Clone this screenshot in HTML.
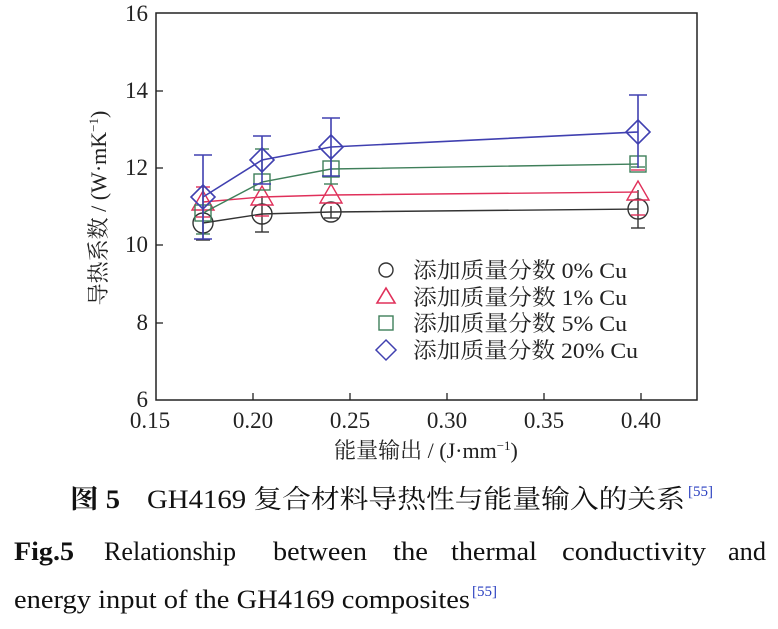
<!DOCTYPE html>
<html><head><meta charset="utf-8"><style>
body{margin:0;background:#fff;width:778px;height:629px;overflow:hidden;}
svg{position:absolute;left:0;top:0}
</style></head><body>
<svg width="778" height="629" xmlns="http://www.w3.org/2000/svg" font-family="Liberation Serif, Noto Serif CJK SC, serif">
<rect x="156" y="13" width="541" height="387" fill="none" stroke="#222" stroke-width="1.5"/>
<g stroke="#222" stroke-width="1.3">
<line x1="253" y1="400" x2="253" y2="393"/><line x1="350" y1="400" x2="350" y2="393"/><line x1="447" y1="400" x2="447" y2="393"/><line x1="544" y1="400" x2="544" y2="393"/><line x1="641" y1="400" x2="641" y2="393"/>
<line x1="156" y1="91" x2="163" y2="91"/><line x1="156" y1="168" x2="163" y2="168"/><line x1="156" y1="245" x2="163" y2="245"/><line x1="156" y1="323" x2="163" y2="323"/>
</g>
<g font-size="23" fill="#222" text-anchor="end">
<text x="148" y="21">16</text><text x="148" y="98">14</text><text x="148" y="175">12</text><text x="148" y="252">10</text><text x="148" y="330">8</text><text x="148" y="407">6</text>
</g>
<g font-size="23" fill="#222" text-anchor="middle">
<text x="150" y="428">0.15</text><text x="253" y="428">0.20</text><text x="350" y="428">0.25</text><text x="447" y="428">0.30</text><text x="544" y="428">0.35</text><text x="641" y="428">0.40</text>
</g>
<text x="426" y="458" font-size="22" text-anchor="middle" fill="#222">能量输出 / (J·mm<tspan font-size="13" dy="-8">−1</tspan><tspan dy="8">)</tspan></text>
<text transform="translate(106,208) rotate(-90)" font-size="22" text-anchor="middle" fill="#222">导热系数 / (W·mK<tspan font-size="13" dy="-8">−1</tspan><tspan dy="8">)</tspan></text>
<g stroke="#333" fill="none" stroke-width="1.4">
<polyline points="203,223 262,214 331,212 638,209"/>
<line x1="203" y1="205" x2="203" y2="240"/><line x1="262" y1="196" x2="262" y2="232"/><line x1="331" y1="206" x2="331" y2="218"/><line x1="638" y1="190" x2="638" y2="228"/>
<line x1="196" y1="240" x2="210" y2="240"/><line x1="255" y1="232" x2="269" y2="232"/><line x1="324" y1="218" x2="338" y2="218"/><line x1="631" y1="228" x2="645" y2="228"/>
<circle cx="203" cy="223" r="10"/><circle cx="262" cy="214" r="10"/><circle cx="331" cy="212" r="10"/><circle cx="638" cy="209" r="10"/>
</g>
<g stroke="#e0305a" fill="none" stroke-width="1.4">
<polyline points="203,202 262,197 331,195 638,192"/>
<line x1="203" y1="187" x2="203" y2="217"/><line x1="196" y1="187" x2="210" y2="187"/><line x1="196" y1="217" x2="210" y2="217"/>
<line x1="255" y1="216" x2="269" y2="216"/><line x1="631" y1="215" x2="645" y2="215"/><line x1="631" y1="170" x2="645" y2="170"/>
<polygon points="203,191 214,210 192,210"/><polygon points="262,186 273,205 251,205"/><polygon points="331,184 342,203 320,203"/><polygon points="638,181 649,200 627,200"/>
</g>
<g stroke="#3f7f5a" fill="none" stroke-width="1.4">
<polyline points="203,213 262,182 331,169 638,164"/>
<line x1="203" y1="187" x2="203" y2="234"/><line x1="196" y1="234" x2="210" y2="234"/>
<line x1="262" y1="149" x2="262" y2="175"/><line x1="255" y1="149" x2="269" y2="149"/>
<line x1="331" y1="156" x2="331" y2="184"/><line x1="324" y1="184" x2="338" y2="184"/>
<line x1="631" y1="167" x2="645" y2="167"/>
<rect x="195" y="205" width="16" height="16"/><rect x="254" y="174" width="16" height="16"/><rect x="323" y="161" width="16" height="16"/><rect x="630" y="156" width="16" height="16"/>
</g>
<g stroke="#4040b0" fill="none" stroke-width="1.6">
<polyline points="203,197 262,160 331,147 638,132"/>
<line x1="203" y1="155" x2="203" y2="239"/><line x1="194" y1="155" x2="212" y2="155"/><line x1="194" y1="239" x2="212" y2="239"/>
<line x1="262" y1="136" x2="262" y2="184"/><line x1="253" y1="136" x2="271" y2="136"/><line x1="253" y1="184" x2="271" y2="184"/>
<line x1="331" y1="118" x2="331" y2="176"/><line x1="322" y1="118" x2="340" y2="118"/><line x1="322" y1="176" x2="340" y2="176"/>
<line x1="638" y1="95" x2="638" y2="168"/><line x1="629" y1="95" x2="647" y2="95"/>
<polygon points="203,185 215,197 203,209 191,197"/><polygon points="262,148 274,160 262,172 250,160"/><polygon points="331,135 343,147 331,159 319,147"/><polygon points="638,120 650,132 638,144 626,132"/>
</g>
<g font-size="22" fill="#222">
<circle cx="386" cy="270" r="7" stroke="#333" fill="none" stroke-width="1.4"/>
<text x="413" y="278" textLength="214" lengthAdjust="spacingAndGlyphs">添加质量分数 0% Cu</text>
<polygon points="386,288 395,303 377,303" stroke="#e0305a" fill="none" stroke-width="1.6"/>
<text x="413" y="305" textLength="214" lengthAdjust="spacingAndGlyphs">添加质量分数 1% Cu</text>
<rect x="379" y="316" width="14" height="14" stroke="#3f7f5a" fill="none" stroke-width="1.4"/>
<text x="413" y="331" textLength="214" lengthAdjust="spacingAndGlyphs">添加质量分数 5% Cu</text>
<polygon points="386,340 396,350 386,360 376,350" stroke="#4040b0" fill="none" stroke-width="1.5"/>
<text x="413" y="358" textLength="225" lengthAdjust="spacingAndGlyphs">添加质量分数 20% Cu</text>
</g>
<g font-size="26" fill="#111">
<text x="70" y="508" font-weight="bold" textLength="50" lengthAdjust="spacingAndGlyphs">图 5</text>
<text x="147" y="508" textLength="538" lengthAdjust="spacingAndGlyphs">GH4169 复合材料导热性与能量输入的关系</text>
<text x="688" y="496" font-size="15" fill="#2a3fc0">[55]</text>
<text x="14" y="560" font-weight="bold" textLength="60" lengthAdjust="spacingAndGlyphs">Fig.5</text>
<text x="104" y="560" textLength="132" lengthAdjust="spacingAndGlyphs">Relationship</text>
<text x="273" y="560" textLength="94" lengthAdjust="spacingAndGlyphs">between</text>
<text x="393" y="560" textLength="35" lengthAdjust="spacingAndGlyphs">the</text>
<text x="451" y="560" textLength="86" lengthAdjust="spacingAndGlyphs">thermal</text>
<text x="562" y="560" textLength="144" lengthAdjust="spacingAndGlyphs">conductivity</text>
<text x="728" y="560" textLength="38" lengthAdjust="spacingAndGlyphs">and</text>
<text x="14" y="608" textLength="456" lengthAdjust="spacingAndGlyphs">energy input of the GH4169 composites</text>
<text x="472" y="596" font-size="15" fill="#2a3fc0">[55]</text>
</g>
</svg>
</body></html>
